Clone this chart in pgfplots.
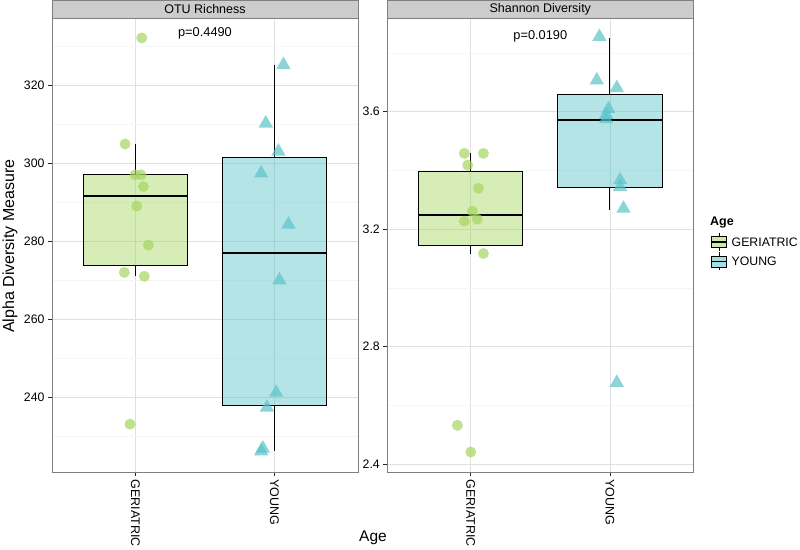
\documentclass[border=0pt]{standalone}
\usepackage{pgfplots}
\pgfplotsset{compat=1.18}
\usepgfplotslibrary{statistics}
\usepackage{fontspec}
\setmainfont{Liberation Sans}
\definecolor{gcol}{RGB}{165,214,95}
\definecolor{tcol}{RGB}{90,195,200}
\definecolor{gridmaj}{RGB}{224,224,224}
\definecolor{gridmin}{RGB}{245,245,245}
\definecolor{bordercol}{RGB}{127,127,127}
\definecolor{stripcol}{RGB}{204,204,204}
\pgfplotsset{
  facet/.style={
    scale only axis, width=306pt, height=454pt,
    xmin=0.4, xmax=2.6,
    xtick={1,2}, xticklabels={GERIATRIC,YOUNG},
    xticklabel style={rotate=-90, anchor=west, font=\fontsize{12.5}{14}\selectfont},
    yticklabel style={font=\fontsize{12.3}{14}\selectfont},
    /pgf/number format/assume math mode=true,
    tick pos=left,
    tick align=outside, major tick length=4pt, minor tick length=0pt,
    major tick style={black!85, line width=0.7pt},
    axis line style={bordercol, line width=0.8pt},
    xmajorgrids, ymajorgrids, yminorgrids,
    major grid style={gridmaj, line width=0.6pt},
    minor grid style={gridmin, line width=0.6pt},
    clip=false,
    boxplot/draw direction=y,
    boxplot/whisker extend=0,
    boxplot/every median/.style={line width=2pt},
  },
  gbox/.style={draw=black, line width=0.9pt, fill=gcol, fill opacity=0.45},
  tbox/.style={draw=black, line width=0.9pt, fill=tcol, fill opacity=0.45},
  gpts/.style={only marks, color=gcol, mark=*, mark size=5.5pt, mark options={draw=gcol, draw opacity=0, fill=gcol, fill opacity=0.7}},
  tpts/.style={only marks, color=tcol, mark=triangle*, mark size=8.3pt, mark options={draw=tcol, draw opacity=0, fill=tcol, fill opacity=0.7}},
}
\begin{document}
\begin{tikzpicture}
\useasboundingbox (0pt,0pt) rectangle (800pt,549pt);
% ---------------- Left panel ----------------
\begin{axis}[facet, at={(52pt,77pt)}, anchor=south west,
  ymin=220.85, ymax=337.2,
  ytick={240,260,280,300,320},
  minor ytick={230,250,270,290,310,330}]
\addplot[gbox, boxplot prepared={lower whisker=271, lower quartile=273.75, median=291.5, upper quartile=297, upper whisker=305, draw position=1, box extend=0.75}] coordinates {};
\addplot[tbox, boxplot prepared={lower whisker=226.2, lower quartile=238, median=277, upper quartile=301.5, upper whisker=325.2, draw position=2, box extend=0.75}] coordinates {};
\addplot[gpts] coordinates {
(1.045,332.1) (0.925,304.9) (0.997,297) (1.040,297) (1.057,294)
(1.009,289) (1.093,279) (0.920,272) (1.064,271) (0.961,233.1)};
\addplot[tpts] coordinates {
(2.064,325.2) (1.937,310.2) (2.028,303) (1.904,297.4) (2.100,284.3)
(2.035,270) (2.012,241.2) (1.945,237.4) (1.916,226.9) (1.904,226.2)};
\node[font=\fontsize{12.8}{14}\selectfont] at (axis cs:1.5,333.3) {p=0.4490};
\fill[stripcol] (rel axis cs:0,1) rectangle (rel axis cs:1,1.0396);
\draw[bordercol, line width=0.8pt] (rel axis cs:0,1) rectangle (rel axis cs:1,1.0396);
\node[font=\fontsize{12.5}{14}\selectfont] at (rel axis cs:0.5,1.0198) {OTU Richness};
\end{axis}
% ---------------- Right panel ----------------
\begin{axis}[facet, at={(387.3pt,77pt)}, anchor=south west,
  ymin=2.373, ymax=3.919,
  ytick={2.4,2.8,3.2,3.6},
  yticklabels={2.4,2.8,3.2,3.6},
  minor ytick={2.6,3.0,3.4,3.8}]
\addplot[gbox, boxplot prepared={lower whisker=3.117, lower quartile=3.145, median=3.247, upper quartile=3.396, upper whisker=3.458, draw position=1, box extend=0.75}] coordinates {};
\addplot[tbox, boxplot prepared={lower whisker=3.265, lower quartile=3.341, median=3.573, upper quartile=3.657, upper whisker=3.85, draw position=2, box extend=0.75}] coordinates {};
\addplot[gpts] coordinates {
(0.954,3.458) (1.091,3.458) (0.978,3.418) (1.055,3.339) (1.012,3.261)
(0.954,3.227) (1.047,3.234) (1.091,3.117) (0.904,2.532) (1.000,2.441)};
\addplot[tpts] coordinates {
(1.925,3.855) (1.906,3.707) (2.050,3.681) (1.990,3.609) (1.973,3.590)
(1.973,3.575) (2.074,3.367) (2.074,3.344) (2.098,3.270) (2.050,2.677)};
\node[font=\fontsize{12.8}{14}\selectfont] at (axis cs:1.5,3.855) {p=0.0190};
\fill[stripcol] (rel axis cs:0,1) rectangle (rel axis cs:1,1.0396);
\draw[bordercol, line width=0.8pt] (rel axis cs:0,1) rectangle (rel axis cs:1,1.0396);
\node[font=\fontsize{12.5}{14}\selectfont] at (rel axis cs:0.5,1.0198) {Shannon Diversity};
\end{axis}
% ---------------- Axis titles ----------------
\node[rotate=90, font=\fontsize{16}{18}\selectfont] at (10pt,303pt) {Alpha Diversity Measure};
\node[font=\fontsize{15.5}{18}\selectfont] at (373pt,11pt) {Age};
% ---------------- Legend ----------------
\node[anchor=west, font=\fontsize{12.5}{14}\bfseries\selectfont, inner sep=0] at (710pt,326pt) {Age};
\draw[black, line width=0.8pt] (719pt,316pt) -- (719pt,298pt);
\filldraw[fill=gcol!55, draw=black, line width=0.8pt] (711.5pt,301.5pt) rectangle (726.5pt,312.5pt);
\draw[black, line width=1.6pt] (711.5pt,307pt) -- (726.5pt,307pt);
\draw[black, line width=0.8pt] (719pt,296.5pt) -- (719pt,278.5pt);
\filldraw[fill=tcol!55, draw=black, line width=0.8pt] (711.5pt,282pt) rectangle (726.5pt,293pt);
\draw[black, line width=1.6pt] (711.5pt,287.5pt) -- (726.5pt,287.5pt);
\node[anchor=west, font=\fontsize{12.3}{14}\selectfont, inner sep=0] at (731.5pt,307pt) {GERIATRIC};
\node[anchor=west, font=\fontsize{12.3}{14}\selectfont, inner sep=0] at (731.5pt,287.5pt) {YOUNG};
\end{tikzpicture}
\end{document}
